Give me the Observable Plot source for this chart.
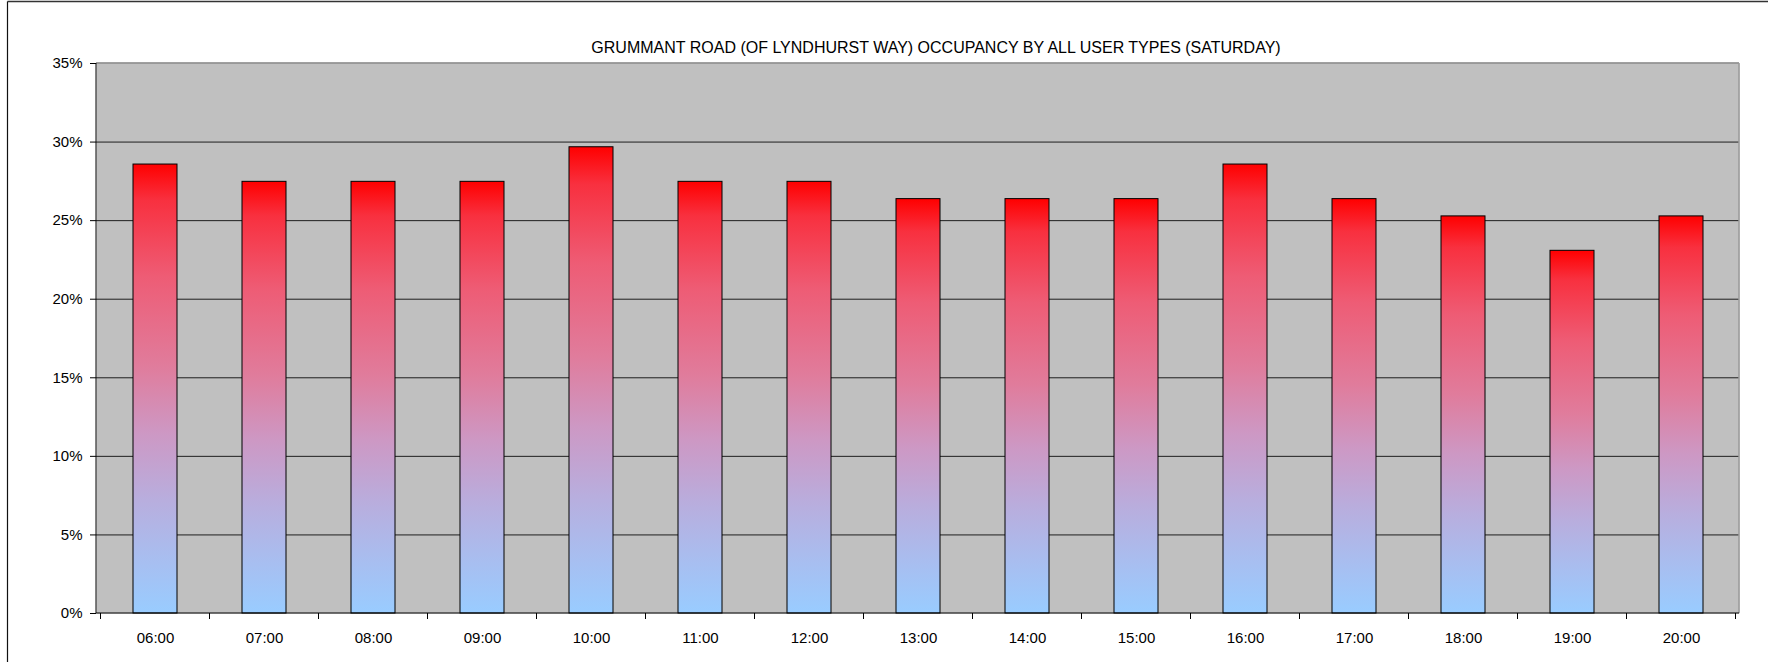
<!DOCTYPE html>
<html>
<head>
<meta charset="utf-8">
<script src="https://cdn.jsdelivr.net/npm/d3@7"></script>
<script src="https://cdn.jsdelivr.net/npm/@observablehq/plot@0.6"></script>
<style>
  html, body { margin: 0; padding: 0; background: white; }
</style>
</head>
<body>
<div id="chart"></div>
<script>
const title = "GRUMMANT ROAD (OF LYNDHURST WAY) OCCUPANCY BY ALL USER TYPES (SATURDAY)";
const times = ["06:00","07:00","08:00","09:00","10:00","11:00","12:00","13:00","14:00","15:00","16:00","17:00","18:00","19:00","20:00"];
const occupancy = [0.2857,0.2747,0.2747,0.2747,0.2967,0.2747,0.2747,0.2637,0.2637,0.2637,0.2857,0.2637,0.2527,0.2308,0.2527];
const yTicks = [0, 0.05, 0.10, 0.15, 0.20, 0.25, 0.30, 0.35];

const data = times.map((t, i) => ({time: t, value: occupancy[i]}));

// gradient definitions
const gradientDefs = () => {
  const defs = d3.create("svg:defs");
  const g = defs.append("linearGradient").attr("id", "barGrad")
    .attr("x1", 0).attr("y1", 0).attr("x2", 0).attr("y2", 1);
  [[0, "#FF0000"], [0.08, "#F8303F"], [0.25, "#EE5C75"], [0.45, "#E07C9C"],
   [0.6, "#CD98C4"], [0.75, "#B8AEDE"], [0.88, "#A8BEF0"], [1, "#99CCFF"]]
    .forEach(([o, c]) => g.append("stop").attr("offset", o).attr("stop-color", c));
  return defs.node();
};

// axis lines, borders and x ticks at band boundaries
const frameAndTicks = (index, scales, values, dims) => {
  const {x, y} = scales;
  const bw = typeof x.bandwidth === "function" ? x.bandwidth() : (x.bandwidth ?? 0);
  const centers = times.map(t => x(t) + bw / 2);
  const step = centers[1] - centers[0];
  const left = dims.marginLeft, right = dims.width - dims.marginRight;
  const top = y(0.35), bottom = y(0);
  const g = d3.create("svg:g");
  // top and right plot border (grey)
  g.append("line").attr("x1", left).attr("x2", right).attr("y1", top).attr("y2", top)
    .attr("stroke", "#808080").attr("stroke-width", 1.5);
  g.append("line").attr("x1", right).attr("x2", right).attr("y1", top).attr("y2", bottom)
    .attr("stroke", "#9a9a9a").attr("stroke-width", 1.5);
  // left and bottom axis lines
  g.append("line").attr("x1", left).attr("x2", left).attr("y1", top).attr("y2", bottom)
    .attr("stroke", "black");
  g.append("line").attr("x1", left).attr("x2", right).attr("y1", bottom).attr("y2", bottom)
    .attr("stroke", "black");
  // x ticks at boundaries
  const bounds = centers.map(c => c - step / 2).concat([centers[centers.length - 1] + step / 2]);
  bounds.forEach(b => g.append("line").attr("x1", b).attr("x2", b)
    .attr("y1", bottom).attr("y2", bottom + 6).attr("stroke", "black"));
  // outer chart frame: only top and left edges are visible
  g.append("line").attr("x1", 7.5).attr("x2", dims.width).attr("y1", 1.5).attr("y2", 1.5)
    .attr("stroke", "#333").attr("stroke-width", 1.5);
  g.append("line").attr("x1", 7.5).attr("x2", 7.5).attr("y1", 1.5).attr("y2", dims.height)
    .attr("stroke", "#111").attr("stroke-width", 1.2);
  return g.node();
};

const chart = Plot.plot({
  width: 1768,
  height: 662,
  marginLeft: 96,
  marginRight: 29,
  marginTop: 63,
  marginBottom: 49,
  style: {fontFamily: "'Liberation Sans', Arial, sans-serif", fontSize: "15px", background: "white", color: "black"},
  x: {domain: times, paddingInner: 0.6, paddingOuter: 0.3, label: null},
  y: {domain: [0, 0.35], label: null},
  marks: [
    Plot.frame({fill: "#C0C0C0", stroke: null}),
    Plot.ruleY(yTicks.slice(1, -1), {stroke: "#1e1e1e", strokeWidth: 1}),
    gradientDefs,
    Plot.barY(data, {x: "time", y: "value", fill: "url(#barGrad)", stroke: "black", strokeWidth: 1}),
    frameAndTicks,
    Plot.axisY({ticks: yTicks, tickFormat: d3.format(".0%"), tickSize: 6, tickPadding: 8, fontSize: 15, stroke: "black"}),
    Plot.axisX({tickSize: 0, tickPadding: 19, fontSize: 15}),
    Plot.text([title], {frameAnchor: "top", dx: 18, dy: -16, lineAnchor: "middle", fontSize: 16, fill: "black", ariaLabel: "chart-title"})
  ]
});

d3.select(chart).select('g[aria-label="chart-title"] text')
  .attr("textLength", 745).attr("lengthAdjust", "spacingAndGlyphs");

document.getElementById("chart").appendChild(chart);
</script>
</body>
</html>
